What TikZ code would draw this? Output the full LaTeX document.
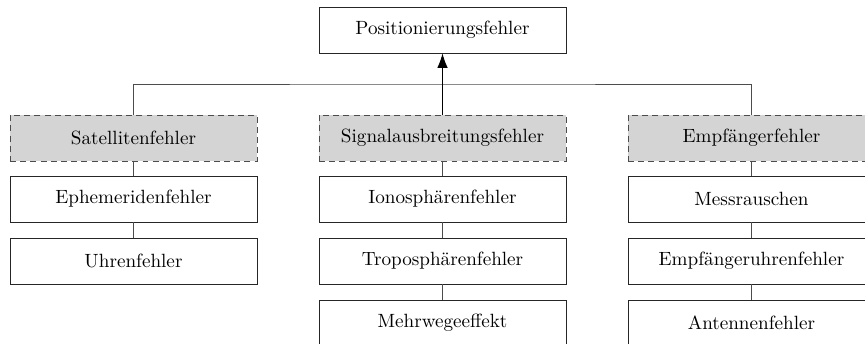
\documentclass[tikz,border=0pt]{standalone}
\usetikzlibrary{arrows.meta,calc}
\tikzset{
  box/.style={draw=black!85, line width=0.45pt, fill=white, minimum width=4.94cm, minimum height=0.92cm, inner sep=2pt, font=\fontsize{10.9}{13}\selectfont},
  catbox/.style={box, fill=black!17, draw=black!70, dash pattern=on 3.4pt off 2.4pt},
  conn/.style={draw=black!70, line width=0.45pt},
  arr/.style={draw=black, line width=0.5pt, -{Latex[length=2.9mm,width=2.1mm]}}
}
\begin{document}
\begin{tikzpicture}[x=0.02cm, y=-0.02cm]
  \useasboundingbox (0,0) rectangle (865,344);

  % root
  \node[box] (top) at (442.5,30) {Positionierungsfehler};

  % error categories
  \node[catbox] (sat) at (133.5,138) {Satellitenfehler};
  \node[catbox] (sig) at (442.5,138) {Signalausbreitungsfehler};
  \node[catbox] (emp) at (751.5,138) {Empfängerfehler};

  % satellite errors
  \node[box] (eph) at (133.5,199) {Ephemeridenfehler};
  \node[box] (uhr) at (133.5,261) {Uhrenfehler};

  % propagation errors
  \node[box] (ion) at (442.5,199) {Ionosphärenfehler};
  \node[box] (tro) at (442.5,261) {Troposphärenfehler};
  \node[box] (mehr) at (442.5,323) {Mehrwegeeffekt};

  % receiver errors
  \node[box] (mess) at (751.5,199) {Messrauschen};
  \node[box] (euhr) at (751.5,261) {Empfängeruhrenfehler};
  \node[box] (ant) at (751.5,323) {Antennenfehler};

  % bus between root and categories
  \coordinate (bus) at ($(top.south)!0.5!(sig.north)$);
  \draw[conn] (sat.north) |- (bus) -| (emp.north);
  \draw[arr] (sig.north) -- (top.south);

  % column chains
  \draw[conn] (sat.south) -- (eph.north);
  \draw[conn] (eph.south) -- (uhr.north);
  \draw[conn] (sig.south) -- (ion.north);
  \draw[conn] (ion.south) -- (tro.north);
  \draw[conn] (tro.south) -- (mehr.north);
  \draw[conn] (emp.south) -- (mess.north);
  \draw[conn] (mess.south) -- (euhr.north);
  \draw[conn] (euhr.south) -- (ant.north);
\end{tikzpicture}
\end{document}
